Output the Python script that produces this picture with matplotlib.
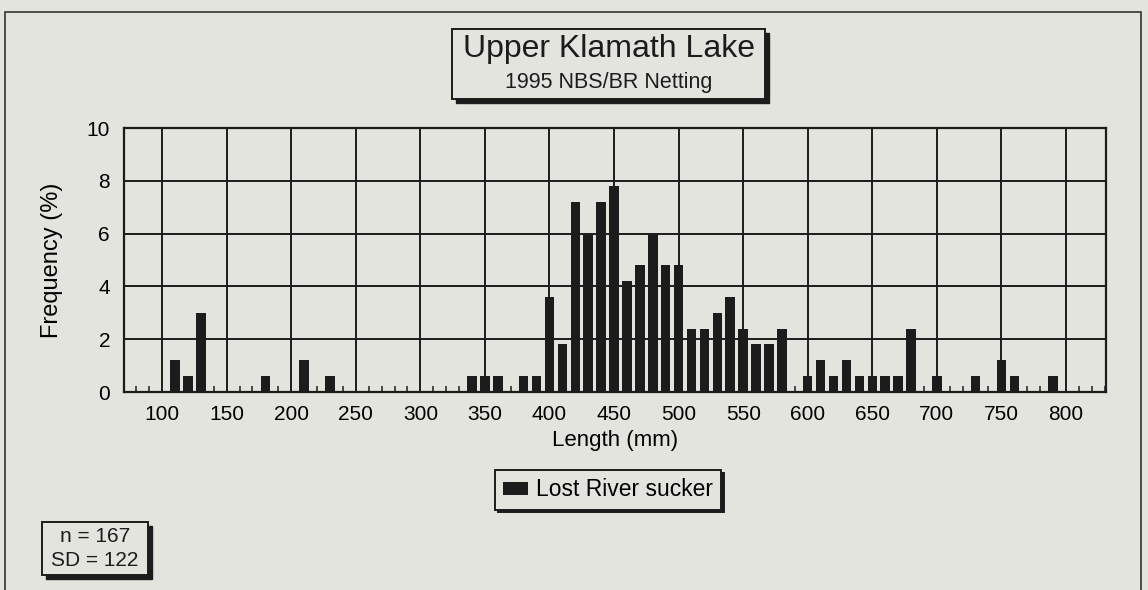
import matplotlib.pyplot as plt
from matplotlib.patches import Rectangle
from matplotlib.ticker import MultipleLocator

# Lost River sucker length frequencies (10 mm bins)
lengths = [110, 120, 130, 180, 210, 230, 340, 350, 360, 380, 390,
           400, 410, 420, 430, 440, 450, 460, 470, 480, 490, 500,
           510, 520, 530, 540, 550, 560, 570, 580,
           600, 610, 620, 630, 640, 650, 660, 670, 680,
           700, 730, 750, 760, 790]
freq = [1.2, 0.6, 3.0, 0.6, 1.2, 0.6, 0.6, 0.6, 0.6, 0.6, 0.6,
        3.6, 1.8, 7.2, 6.0, 7.2, 7.8, 4.2, 4.8, 6.0, 4.8, 4.8,
        2.4, 2.4, 3.0, 3.6, 2.4, 1.8, 1.8, 2.4,
        0.6, 1.2, 0.6, 1.2, 0.6, 0.6, 0.6, 0.6, 2.4,
        0.6, 0.6, 1.2, 0.6, 0.6]
x_ticks = [100, 150, 200, 250, 300, 350, 400, 450, 500, 550, 600, 650, 700, 750, 800]
y_ticks = [0, 2, 4, 6, 8, 10]
n_fish = 167
sd = 122

W, H = 1148, 590
bg = '#e4e4df'
ink = '#1c1c1c'
plt.rcParams['font.family'] = ['Liberation Sans', 'DejaVu Sans']

fig = plt.figure(figsize=(W / 100, H / 100), dpi=100, facecolor=bg)


def fbox(x0, y0, x1, y1):
    # pixel box (top-left origin) -> figure fraction rect
    return (x0 / W, 1 - y1 / H), (x1 - x0) / W, (y1 - y0) / H


def shadow_box(x0, y0, x1, y1, off=4):
    xy, w, h = fbox(x0 + off, y0 + off, x1 + off, y1 + off)
    fig.patches.append(Rectangle(xy, w, h, transform=fig.transFigure,
                                 facecolor=ink, edgecolor=ink, zorder=1))
    xy, w, h = fbox(x0, y0, x1, y1)
    fig.patches.append(Rectangle(xy, w, h, transform=fig.transFigure,
                                 facecolor=bg, edgecolor=ink, lw=1.4, zorder=2))


# outer frame
xy, w, h = fbox(5, 12, 1141, 620)
fig.patches.append(Rectangle(xy, w, h, transform=fig.transFigure,
                             facecolor='none', edgecolor='#333333', lw=1.2))

ax = fig.add_axes([124 / W, 1 - 392 / H, (1106 - 124) / W, (392 - 128) / H])
ax.set_facecolor(bg)
ax.set_axisbelow(True)
ax.bar(lengths, freq, width=7.4, color=ink, label='Lost River sucker', zorder=2)

ax.set_xlim(70.5, 831)
ax.set_ylim(0, 10)
ax.set_xticks(x_ticks)
ax.set_yticks(y_ticks)
ax.xaxis.set_minor_locator(MultipleLocator(10))
ax.grid(True, which='major', color=ink, lw=1.4)
ax.tick_params(axis='both', which='major', length=0, labelsize=15)
ax.tick_params(axis='x', which='major', pad=9)
ax.tick_params(axis='y', which='major', pad=10)
ax.tick_params(axis='x', which='minor', direction='in', length=4, width=1.1, color=ink)
for s in ax.spines.values():
    s.set_linewidth(1.6)
    s.set_color(ink)

ax.set_xlabel('Length (mm)', fontsize=16, labelpad=0)
ax.xaxis.set_label_coords(0.5, -0.145)
ax.set_ylabel('Frequency (%)', fontsize=17)
ax.yaxis.set_label_coords(-0.062, 0.5)

# title box
shadow_box(452, 29, 765, 99)
fig.text(609 / W, 1 - 57 / H, 'Upper Klamath Lake', ha='center', va='baseline',
         fontsize=23, color=ink, zorder=3)
fig.text(609 / W, 1 - 88 / H, '1995 NBS/BR Netting', ha='center', va='baseline',
         fontsize=15.5, color=ink, zorder=3)

# legend
leg = fig.legend(loc='center', bbox_to_anchor=(608 / W, 1 - 490 / H),
                 fontsize=16.5, frameon=True, fancybox=False, edgecolor=ink,
                 facecolor=bg, framealpha=1,
                 shadow={'color': ink, 'alpha': 1},
                 handlelength=1.1, handleheight=0.5, handletextpad=0.35,
                 borderpad=0.35, borderaxespad=0)
leg.get_frame().set_linewidth(1.4)

# n / SD box
shadow_box(42, 522, 148, 575)
fig.text(95 / W, 1 - 536 / H, f'n = {n_fish}', ha='center', va='center',
         fontsize=15, color=ink, zorder=3)
fig.text(95 / W, 1 - 561 / H, f'SD = {sd}', ha='center', va='center',
         fontsize=15, color=ink, zorder=3)

fig.savefig('out.png', dpi=100, facecolor=bg)
